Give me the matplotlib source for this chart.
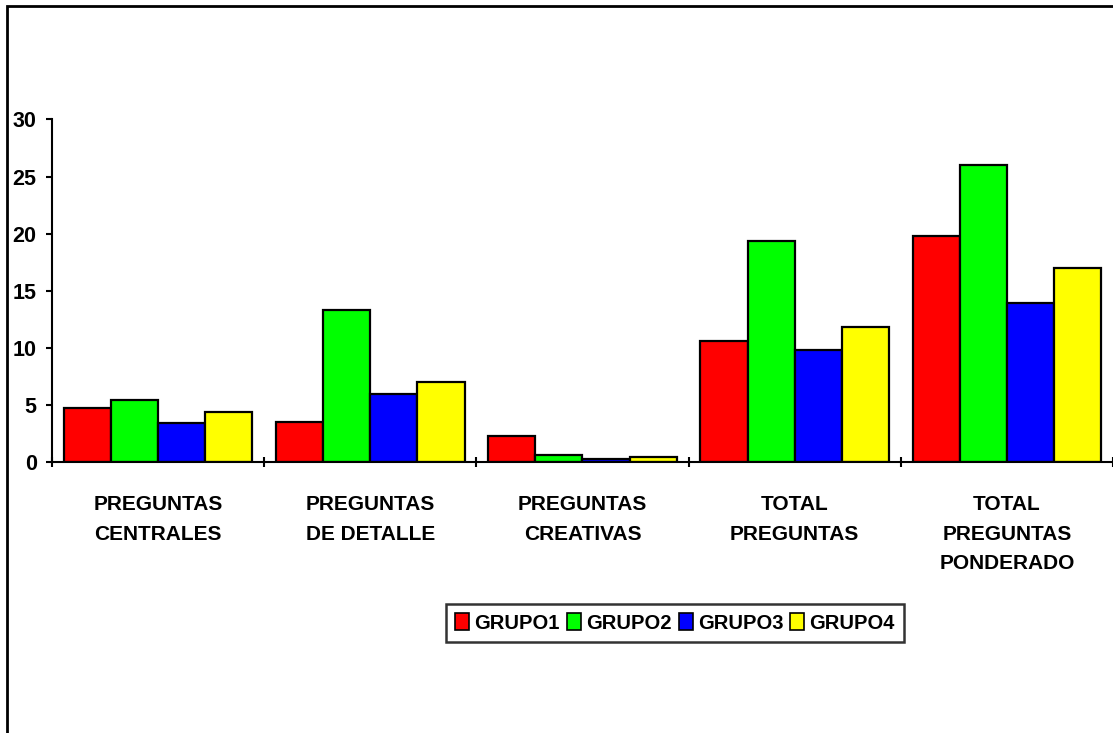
import numpy as np
import matplotlib
matplotlib.use('Agg')
import matplotlib.pyplot as plt
from matplotlib.patches import Rectangle

plt.rcParams['font.family'] = ['Liberation Sans', 'DejaVu Sans']
plt.rcParams['font.weight'] = 'bold'

categorias = ['PREGUNTAS\nCENTRALES', 'PREGUNTAS\nDE DETALLE', 'PREGUNTAS\nCREATIVAS',
              'TOTAL\nPREGUNTAS', 'TOTAL\nPREGUNTAS\nPONDERADO']
grupos = ['GRUPO1', 'GRUPO2', 'GRUPO3', 'GRUPO4']
grupo1 = [4.7, 3.5, 2.3, 10.6, 19.8]
grupo2 = [5.4, 13.3, 0.6, 19.4, 26.0]
grupo3 = [3.4, 6.0, 0.3, 9.8, 13.9]
grupo4 = [4.4, 7.0, 0.4, 11.8, 17.0]
colores = ['#FF0000', '#00FF00', '#0000FF', '#FFFF00']

fig = plt.figure(figsize=(11.13, 7.33), dpi=100)
ax = fig.add_axes([0.0467, 0.3697, 0.9533, 0.4673])

x = np.arange(len(categorias)) + 0.5
ancho = 0.222
for i, (vals, nombre) in enumerate(zip([grupo1, grupo2, grupo3, grupo4], grupos)):
    ax.bar(x + (i - 1.5) * ancho, vals, ancho, color=colores[i], edgecolor='black',
           linewidth=1.6, label=nombre)

ax.set_xlim(0, 5)
ax.set_ylim(0, 30)
ax.set_yticks([0, 5, 10, 15, 20, 25, 30])
ax.set_xticks(np.arange(0, 6))
ax.set_xticklabels([])
ax.set_xticks(x, minor=True)
ax.set_xticklabels(categorias, minor=True, fontsize=15, fontweight='bold', linespacing=1.7)
ax.tick_params(axis='x', which='minor', length=0, pad=24)
ax.tick_params(axis='x', which='major', direction='inout', length=7, width=1.5)
ax.tick_params(axis='y', direction='out', length=4, width=1.5, pad=7, labelsize=15.5)
for lbl in ax.get_yticklabels():
    lbl.set_fontweight('bold')

for s in ['top', 'right']:
    ax.spines[s].set_visible(False)
for s in ['left', 'bottom']:
    ax.spines[s].set_linewidth(1.5)

leg = fig.legend(loc='center', bbox_to_anchor=(0.6065, 0.15), ncol=4, frameon=True,
                 fancybox=False, edgecolor='black', handlelength=0.7,
                 handleheight=0.9, handletextpad=0.25, columnspacing=0.35,
                 borderpad=0.45, prop={'weight': 'bold', 'size': 14.5})
leg.get_frame().set_linewidth(1.8)
for h in leg.legend_handles:
    h.set_linewidth(1.2)

# marco exterior del grafico
fig.add_artist(Rectangle((0.0063, -0.1), 1.2, 1.0918, transform=fig.transFigure,
                         fill=False, edgecolor='black', linewidth=2))

fig.savefig('out.png', dpi=100)
